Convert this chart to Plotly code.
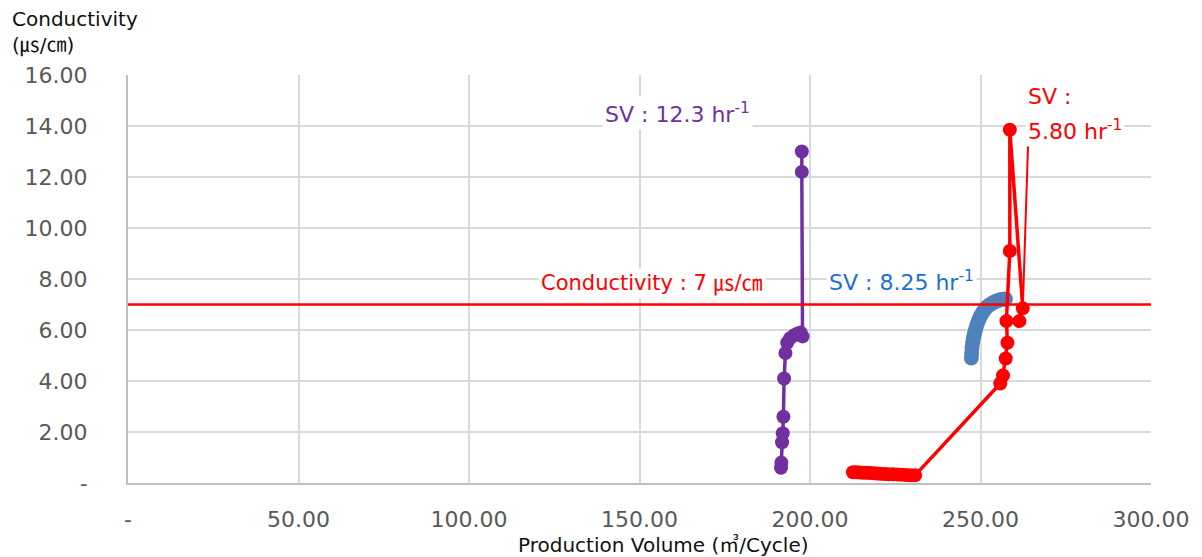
import plotly.graph_objects as go

# ---- data ----
x_ticks = [0, 50, 100, 150, 200, 250, 300]
x_tick_labels = ["-", "50.00", "100.00", "150.00", "200.00", "250.00", "300.00"]
y_ticks = [0, 2, 4, 6, 8, 10, 12, 14, 16]
y_tick_labels = ["-", "2.00", "4.00", "6.00", "8.00", "10.00", "12.00", "14.00", "16.00"]

threshold = 7

sv123_x = [191.5, 191.6, 191.8, 192.0, 192.2, 192.4, 192.8, 193.3, 194.2, 195.2, 196.2, 197.2, 197.8, 197.6, 197.6]
sv123_y = [0.60, 0.80, 1.60, 1.95, 2.60, 4.10, 5.10, 5.50, 5.68, 5.78, 5.85, 5.90, 5.75, 12.20, 13.00]

sv825_x = [247.3, 247.4, 247.5, 247.7, 247.9, 248.2, 248.5, 248.8, 249.2, 249.6, 250.0, 250.5,
           251.0, 251.5, 252.0, 252.6, 253.2, 253.8, 254.4, 255.0, 255.6, 256.2, 256.8, 257.3]
sv825_y = [4.90, 5.10, 5.30, 5.50, 5.68, 5.85, 6.00, 6.15, 6.30, 6.43, 6.55, 6.66,
           6.76, 6.85, 6.92, 6.98, 7.03, 7.08, 7.12, 7.15, 7.18, 7.20, 7.21, 7.22]

sv580_x = [212.6, 213.6, 214.6, 215.6, 216.6, 217.6, 218.6, 219.6, 220.6, 221.8, 223.0, 224.3,
           225.6, 226.9, 228.2, 229.5, 230.8, 255.8, 256.6, 257.4, 257.9, 257.6, 258.6, 258.6,
           262.4, 261.4]
sv580_y = [0.42, 0.42, 0.41, 0.40, 0.40, 0.39, 0.38, 0.37, 0.36, 0.35, 0.34, 0.34,
           0.33, 0.32, 0.31, 0.30, 0.30, 3.90, 4.22, 4.88, 5.50, 6.35, 9.10, 13.85,
           6.85, 6.35]

PURPLE = "#7030A0"
BLUE = "#4F81BD"
RED = "#FF0000"
LABEL_BLUE = "#1A6FD6"
FONT = "DejaVu Sans, Noto Sans CJK KR, sans-serif"

fig = go.Figure()

fig.add_trace(go.Scatter(x=sv123_x, y=sv123_y, mode="lines+markers",
                         line=dict(color=PURPLE, width=3.5),
                         marker=dict(color=PURPLE, size=14), showlegend=False))
fig.add_trace(go.Scatter(x=sv825_x, y=sv825_y, mode="markers",
                         marker=dict(color=BLUE, size=15), showlegend=False))
fig.add_trace(go.Scatter(x=[x_ticks[0], x_ticks[-1]], y=[threshold, threshold], mode="lines",
                         line=dict(color=RED, width=2.5), showlegend=False))
fig.add_trace(go.Scatter(x=sv580_x, y=sv580_y, mode="lines+markers",
                         line=dict(color=RED, width=3.5),
                         marker=dict(color=RED, size=14), showlegend=False))

# leader line from the SV 5.80 label to its point
fig.add_annotation(x=sv580_x[-2], y=sv580_y[-2], ax=264, ay=13.5, axref="x", ayref="y",
                   xref="x", yref="y", text="", showarrow=True, arrowhead=0,
                   arrowwidth=2, arrowcolor=RED, standoff=0, startstandoff=0)

labels = [
    dict(x=161, y=14.5, text="SV : 12.3 hr<sup>-1</sup>", color=PURPLE, xanchor="center", size=22),
    dict(x=226.7, y=7.92, text="SV : 8.25 hr<sup>-1</sup>", color=LABEL_BLUE, xanchor="center", size=22),
    dict(x=153.7, y=7.84, text="Conductivity : 7 ㎲/㎝", color=RED, xanchor="center", size=21),
    dict(x=263.0, y=15.14, text="SV :", color=RED, xanchor="left", size=22),
    dict(x=263.0, y=13.84, text="5.80 hr<sup>-1</sup>", color=RED, xanchor="left", size=22),
]
for lb in labels:
    fig.add_annotation(x=lb["x"], y=lb["y"], xref="x", yref="y", text=lb["text"],
                       showarrow=False, xanchor=lb["xanchor"], yanchor="middle",
                       font=dict(family=FONT, size=lb["size"], color=lb["color"]),
                       bgcolor="white", borderpad=2)

# axis titles
fig.add_annotation(x=-0.1155, y=1.172, xref="paper", yref="paper", xanchor="left", yanchor="top",
                   text="Conductivity<br>(㎲/㎝)", showarrow=False, align="left",
                   font=dict(family=FONT, size=20, color="#111111"))
fig.add_annotation(x=0.523, y=-0.152, xref="paper", yref="paper", xanchor="center", yanchor="middle",
                   text="Production Volume (㎥/Cycle)", showarrow=False,
                   font=dict(family=FONT, size=20, color="#111111"))

fig.update_layout(
    width=1186, height=549,
    margin=dict(l=120, r=43, t=67, b=74, autoexpand=False),
    paper_bgcolor="white", plot_bgcolor="white",
    font=dict(family=FONT),
    showlegend=False,
)
fig.update_xaxes(range=[0, 300], tickvals=x_ticks, ticktext=x_tick_labels,
                 showgrid=True, gridcolor="#D9D9D9", gridwidth=1.5,
                 showline=True, linecolor="#BFBFBF", linewidth=2,
                 zeroline=False, ticks="", ticklabelstandoff=16,
                 tickfont=dict(family=FONT, size=22, color="#595959"))
fig.update_yaxes(range=[0, 16], tickvals=y_ticks, ticktext=y_tick_labels,
                 showgrid=True, gridcolor="#D9D9D9", gridwidth=1.5,
                 showline=True, linecolor="#BFBFBF", linewidth=2,
                 zeroline=False, ticks="", ticklabelstandoff=34,
                 tickfont=dict(family=FONT, size=22, color="#595959"))

fig.write_html("out.html")
